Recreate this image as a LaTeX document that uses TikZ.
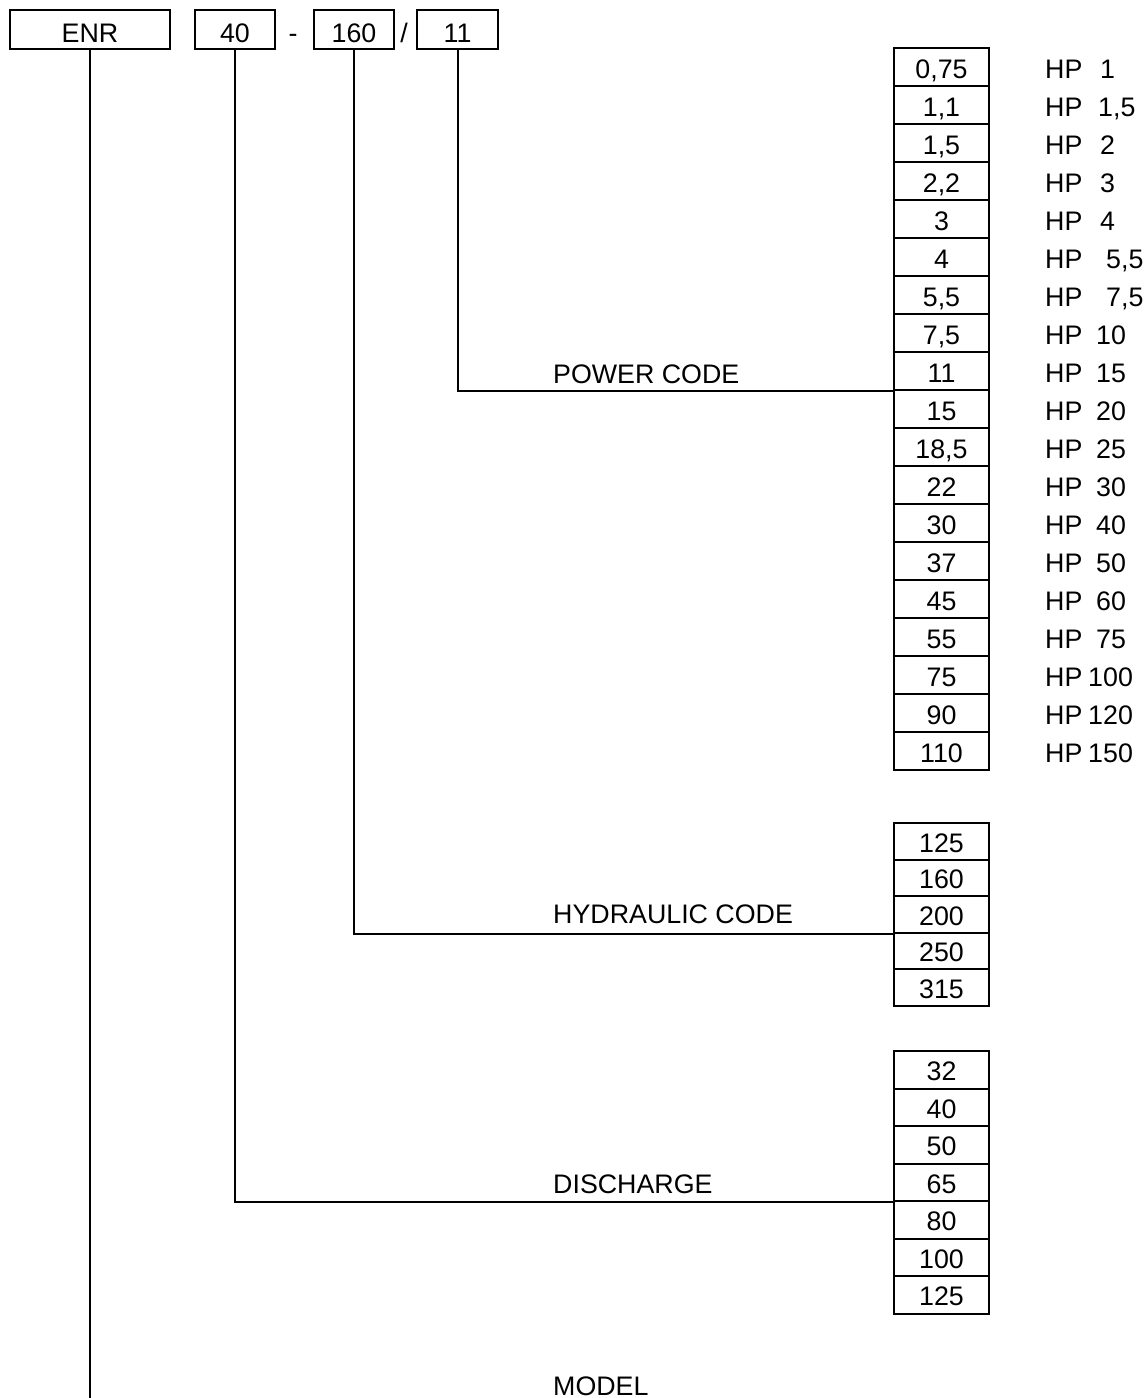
\documentclass[tikz,border=0pt]{standalone}
\usepackage{fontspec}
\setmainfont{Liberation Sans}
\begin{document}
\begin{tikzpicture}[x=1pt,y=-1pt,
  every node/.style={font=\fontsize{26.8}{30}\selectfont},
  cell/.style={draw, line width=2pt, minimum width=95pt, inner sep=0pt,
    text height=22pt, text depth=0pt},
  topbox/.style={draw, line width=2pt, minimum height=39pt, inner sep=0pt,
    text height=25pt, text depth=0pt},
  lbl/.style={anchor=base west, inner sep=0pt},
  conn/.style={line width=2pt}]
\useasboundingbox (0,0) rectangle (1147,1398);
% top code boxes
\node[topbox, minimum width=160pt] (enr) at (90,29.5) {ENR};
\node[topbox, minimum width=80pt] (b40) at (235,29.5) {40};
\node[anchor=base, inner sep=0pt] (dash) at (293,42) {-};
\node[topbox, minimum width=80pt] (b160) at (354,29.5) {160};
\node[anchor=base, inner sep=0pt] (slash) at (404,42) {/};
\node[topbox, minimum width=81pt] (b11) at (457.5,29.5) {11};
% power code column
\foreach \v/\h/\hx [count=\i from 0] in {
  {0,75}/1/1100, {1,1}/{1,5}/1098, {1,5}/2/1100, {2,2}/3/1100, 3/4/1100,
  4/{5,5}/1106, {5,5}/{7,5}/1106, {7,5}/10/1096, 11/15/1096, 15/20/1096,
  {18,5}/25/1096, 22/30/1096, 30/40/1096, 37/50/1096, 45/60/1096,
  55/75/1096, 75/100/1088, 90/120/1088, 110/150/1088}{
  \node[cell, minimum height=38pt] (p\i) at (941.5,{48+38*\i+19}) {\v};
  \node[lbl] (hp\i) at (1045,{48+38*\i+30}) {HP};
  \node[lbl] (hn\i) at (\hx,{48+38*\i+30}) {\h};
}
% hydraulic code column
\foreach \v [count=\i from 0] in {125,160,200,250,315}{
  \node[cell, minimum height=36.5pt] (h\i) at (941.5,{823+36.5*\i+18.25}) {\v};
}
% discharge column
\foreach \v [count=\i from 0] in {32,40,50,65,80,100,125}{
  \node[cell, minimum height=37.5pt] (d\i) at (941.5,{1051+37.5*\i+18.75}) {\v};
}
% labels
\node[lbl] (lpow) at (553,383) {POWER CODE};
\node[lbl] (lhyd) at (553,923) {HYDRAULIC CODE};
\node[lbl] (ldis) at (553,1193) {DISCHARGE};
\node[lbl] (lmod) at (553,1395) {MODEL};
% connectors
\coordinate (enrend) at (90,1398);
\draw[conn] (b11.south) |- (p8.south west);
\draw[conn] (b160.south) |- (h2.south west);
\draw[conn] (b40.south) |- (d3.south west);
\draw[conn] (enr.south) -- (enrend);
\end{tikzpicture}
\end{document}
